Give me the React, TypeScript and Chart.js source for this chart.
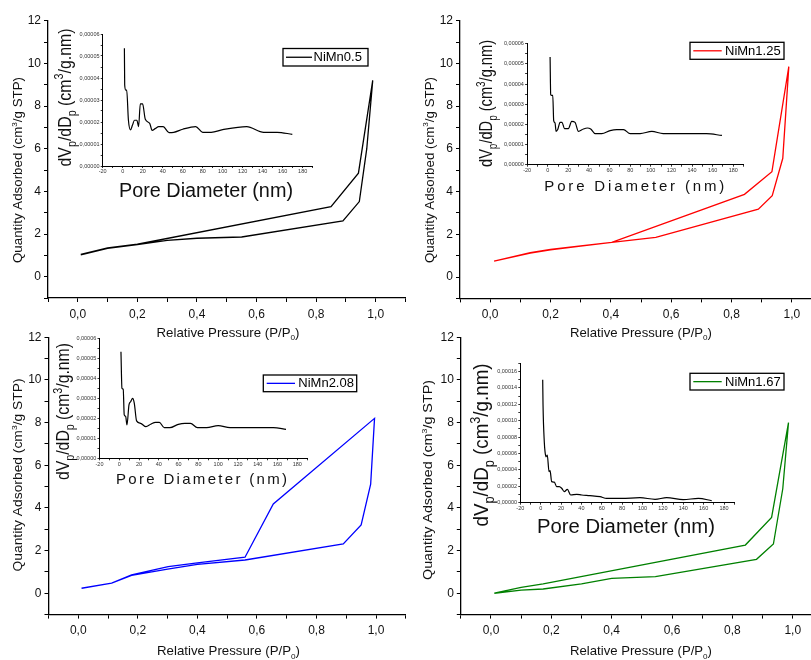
import React, { useEffect, useRef } from 'react';
import { Chart, registerables } from 'chart.js';

Chart.register(...registerables);

const FONT = "'Liberation Sans', Arial, Helvetica, sans-serif";

// ---------------- DATA ----------------
const seriesLabels = ['NiMn0.5', 'NiMn1.25', 'NiMn2.08', 'NiMn1.67'];

// Isotherms: adsorption (lower) branch then desorption (upper) branch
const p1AdsX = [0.01, 0.1, 0.2, 0.3, 0.4, 0.55, 0.89, 0.945, 0.97, 0.99];
const p1AdsY = [1.02, 1.33, 1.5, 1.7, 1.8, 1.86, 2.61, 3.52, 6.0, 9.2];
const p1DesX = [0.99, 0.942, 0.85, 0.2, 0.1, 0.01];
const p1DesY = [9.2, 4.85, 3.28, 1.52, 1.35, 1.04];

const p2AdsX = [0.013, 0.133, 0.2, 0.3, 0.403, 0.549, 0.889, 0.935, 0.97, 0.99];
const p2AdsY = [0.75, 1.12, 1.27, 1.45, 1.62, 1.86, 3.18, 3.81, 5.56, 9.85];
const p2DesX = [0.99, 0.934, 0.843, 0.403, 0.3, 0.2, 0.133, 0.013];
const p2DesY = [9.85, 4.93, 3.87, 1.62, 1.46, 1.29, 1.14, 0.74];

const p3AdsX = [0.011, 0.112, 0.179, 0.3, 0.4, 0.56, 0.89, 0.95, 0.982, 0.995];
const p3AdsY = [0.23, 0.47, 0.84, 1.13, 1.35, 1.56, 2.31, 3.2, 5.12, 8.2];
const p3DesX = [0.995, 0.655, 0.56, 0.4, 0.302, 0.179, 0.112, 0.011];
const p3DesY = [8.2, 4.19, 1.69, 1.42, 1.25, 0.86, 0.48, 0.24];

const p4AdsX = [0.011, 0.1, 0.173, 0.3, 0.4, 0.545, 0.88, 0.936, 0.967, 0.986];
const p4AdsY = [0.0, 0.15, 0.2, 0.44, 0.7, 0.78, 1.59, 2.31, 4.9, 8.0];
const p4DesX = [0.986, 0.93, 0.843, 0.173, 0.1, 0.011];
const p4DesY = [8.0, 3.56, 2.26, 0.44, 0.28, 0.01];

// Pore size distributions (insets), dVp/dDp in units of 1e-5 cm3/g.nm
const i1X = [1.7, 2, 3, 4, 5.7, 7.8, 9.8, 11.8, 14.2, 15.9, 17.6, 19.9, 22.6, 27, 29.4, 32.8, 36, 40.5, 46.3, 51, 60, 73, 80, 88.5, 100, 124, 141, 154.4, 169.6];
const i1Y = [5.35, 3.68, 3.45, 3.45, 2.09, 1.64, 1.86, 2.08, 2.08, 1.79, 2.82, 2.82, 2.12, 1.94, 1.62, 1.71, 1.79, 1.79, 1.52, 1.53, 1.67, 1.79, 1.53, 1.53, 1.65, 1.79, 1.53, 1.53, 1.44];

const i2X = [2.3, 2.9, 3.9, 4.9, 5.8, 7.1, 8.1, 9.7, 12, 13.9, 16.2, 20, 23.3, 26.5, 29.8, 34.6, 38.5, 41.7, 46, 52.4, 60.5, 67, 73.5, 80, 89.6, 101, 112, 154, 169];
const i2Y = [5.34, 3.47, 3.44, 3.44, 2.18, 2.07, 1.65, 1.74, 2.1, 2.1, 1.79, 1.79, 2.15, 2.1, 1.65, 1.77, 1.82, 1.77, 1.54, 1.54, 1.69, 1.74, 1.74, 1.54, 1.54, 1.65, 1.54, 1.54, 1.45];

const i3X = [1.7, 2.7, 4, 5, 6.4, 7.8, 9.8, 11.5, 13.5, 15.2, 17.5, 21.6, 27, 31.7, 36.7, 40.5, 45.5, 51.2, 59.7, 66.4, 72, 79, 88.3, 100, 112, 155.8, 168.6];
const i3Y = [5.33, 3.5, 3.45, 2.17, 2.1, 1.67, 2.67, 2.83, 3.0, 2.75, 1.87, 1.75, 1.58, 1.7, 1.8, 1.8, 1.53, 1.53, 1.7, 1.75, 1.75, 1.53, 1.53, 1.63, 1.53, 1.53, 1.45];

const i4X = [2, 2.3, 3.6, 4.3, 5.2, 6.5, 8.2, 9.2, 10.8, 13.4, 15.7, 18.3, 20.6, 23.2, 26.2, 29.5, 35.4, 40.3, 48.4, 58.3, 64.8, 79.5, 97.5, 112.3, 123.7, 140, 154.8, 168];
const i4Y = [15.0, 12.0, 7.3, 6.2, 5.6, 5.8, 3.8, 3.9, 2.57, 2.5, 1.96, 1.96, 1.76, 1.35, 1.63, 0.94, 1.02, 0.94, 0.86, 0.73, 0.53, 0.53, 0.61, 0.41, 0.61, 0.37, 0.53, 0.24];

// Tick labels
const pressureTickLabels = ['0,0', '0,2', '0,4', '0,6', '0,8', '1,0'];
const quantityTickLabels = ['0', '2', '4', '6', '8', '10', '12'];
const poreTickLabels = ['-20', '0', '20', '40', '60', '80', '100', '120', '140', '160', '180'];
const psdTickLabels = ['0,00000', '0,00001', '0,00002', '0,00003', '0,00004', '0,00005', '0,00006'];
const psdTickLabels4 = ['0,00000', '0,00002', '0,00004', '0,00006', '0,00008', '0,00010', '0,00012', '0,00014', '0,00016'];

// ---------------- STYLE / LAYOUT ----------------
const seriesColors = ['#000000', '#ff0000', '#0000ff', '#008000'];

const isoData = [
  { ax: p1AdsX, ay: p1AdsY, dx: p1DesX, dy: p1DesY },
  { ax: p2AdsX, ay: p2AdsY, dx: p2DesX, dy: p2DesY },
  { ax: p3AdsX, ay: p3AdsY, dx: p3DesX, dy: p3DesY },
  { ax: p4AdsX, ay: p4AdsY, dx: p4DesX, dy: p4DesY },
];
const psdData = [
  { x: i1X, y: i1Y },
  { x: i2X, y: i2Y },
  { x: i3X, y: i3Y },
  { x: i4X, y: i4Y },
];

type Rect = { l: number; t: number; w: number; h: number };
type Area = { L: number; T: number; R: number; B: number };

const MAIN: {
  canvas: Rect; area: Area;
  yTitle: { x: number; y: number; len: number };
  xTitle: { x: number; y: number; len: number };
  legend: { l: number; t: number; r: number; b: number; x1: number; x2: number; tx: number };
}[] = [
  { canvas: { l: 0, t: 0, w: 414, h: 350 }, area: { L: 48, T: 20.7, R: 405.5, B: 298 },
    yTitle: { x: 22, y: 170, len: 186 }, xTitle: { x: 228, y: 336.5, len: 143 },
    legend: { l: 283, t: 48.5, r: 368, b: 66, x1: 286, x2: 312, tx: 313.5 } },
  { canvas: { l: 412, t: 0, w: 422, h: 350 }, area: { L: 460, T: 20.7, R: 822, B: 298.4 },
    yTitle: { x: 433.5, y: 170, len: 186 }, xTitle: { x: 641, y: 336.5, len: 142 },
    legend: { l: 690, t: 42.3, r: 784, b: 59.3, x1: 693.3, x2: 721.7, tx: 725 } },
  { canvas: { l: 0, t: 317, w: 414, h: 343 }, area: { L: 48.5, T: 337.3, R: 405.8, B: 614.6 },
    yTitle: { x: 22, y: 475, len: 193 }, xTitle: { x: 228.5, y: 655, len: 143 },
    legend: { l: 263.3, t: 375, r: 356.7, b: 391.7, x1: 266.7, x2: 295, tx: 298.3 } },
  { canvas: { l: 412, t: 317, w: 422, h: 343 }, area: { L: 460.8, T: 337.3, R: 822.9, B: 614.6 },
    yTitle: { x: 432, y: 480, len: 200 }, xTitle: { x: 641, y: 655, len: 142 },
    legend: { l: 690, t: 373.3, r: 784, b: 390, x1: 693.3, x2: 721.7, tx: 725 } },
];

const INSETS: {
  canvas: Rect; area: Area; yMax: number; yStep: number;
  yTitle: { x: number; y: number; size: number; len: number };
  xTitle: { x: number; y: number; size: number; len: number; spread: boolean };
}[] = [
  { canvas: { l: 50, t: 24, w: 280, h: 182 }, area: { L: 102.7, T: 34, R: 312.7, B: 166 }, yMax: 6, yStep: 0.5,
    yTitle: { x: 70.6, y: 97.5, size: 18, len: 138 }, xTitle: { x: 206, y: 197, size: 20, len: 174, spread: false } },
  { canvas: { l: 470, t: 32, w: 290, h: 170 }, area: { L: 527.1, T: 43.7, R: 743.6, B: 164.7 }, yMax: 6, yStep: 0.5,
    yTitle: { x: 492.4, y: 103.5, size: 18, len: 127 }, xTitle: { x: 634.3, y: 190.7, size: 15, len: 180, spread: true } },
  { canvas: { l: 50, t: 328, w: 275, h: 165 }, area: { L: 99.5, T: 338.3, R: 307.2, B: 458.3 }, yMax: 6, yStep: 0.5,
    yTitle: { x: 69.1, y: 411.5, size: 18, len: 137 }, xTitle: { x: 201.5, y: 484, size: 15, len: 171, spread: true } },
  { canvas: { l: 465, t: 353, w: 285, h: 190 }, area: { L: 520.3, T: 363.3, R: 734.2, B: 502.7 }, yMax: 17, yStep: 1,
    yTitle: { x: 488, y: 445, size: 21, len: 163 }, xTitle: { x: 626, y: 533.3, size: 20, len: 178, spread: false } },
];

// ---------------- RICH TEXT ----------------
type Seg = [string, number]; // 0 normal, 1 subscript, -1 superscript

function drawRich(
  ctx: CanvasRenderingContext2D, segs: Seg[], cx: number, cy: number, size: number,
  opt: { rot?: boolean; len?: number; spread?: boolean; color?: string; subScale?: number }
) {
  ctx.save();
  ctx.translate(cx, cy);
  if (opt.rot) ctx.rotate(-Math.PI / 2);
  ctx.fillStyle = opt.color || '#000';
  ctx.textBaseline = 'alphabetic';
  ctx.textAlign = 'left';
  const sc = opt.subScale || 0.62;
  const items = segs.map(([t, k]) => {
    const fs = k ? size * sc : size;
    ctx.font = `${fs}px ${FONT}`;
    const chars = Array.from(t).map((c) => ({ c, w: ctx.measureText(c).width }));
    const w = opt.spread ? chars.reduce((a, b) => a + b.w, 0) : ctx.measureText(t).width;
    return { t, k, fs, chars, w };
  });
  const natural = items.reduce((a, b) => a + b.w, 0);
  const nChars = items.reduce((a, b) => a + b.chars.length, 0);
  let gap = 0;
  let x = -natural / 2;
  if (opt.len && opt.spread) {
    gap = (opt.len - natural) / Math.max(1, nChars - 1);
    x = -opt.len / 2;
  } else if (opt.len) {
    ctx.scale(opt.len / natural, 1);
  }
  for (const it of items) {
    ctx.font = `${it.fs}px ${FONT}`;
    const dy = it.k === 1 ? size * 0.28 : it.k === -1 ? -size * 0.4 : 0;
    if (opt.spread) {
      for (const ch of it.chars) {
        ctx.fillText(ch.c, x, dy);
        x += ch.w + gap;
      }
    } else {
      ctx.fillText(it.t, x, dy);
      x += it.w;
    }
  }
  ctx.restore();
}

const Y_MAIN: Seg[] = [['Quantity Adsorbed (cm', 0], ['3', -1], ['/g STP)', 0]];
const X_MAIN: Seg[] = [['Relative Pressure (P/P', 0], ['0', 1], [')', 0]];
const Y_INSET: Seg[] = [['dV', 0], ['p', 1], ['/dD', 0], ['p', 1], [' (cm', 0], ['3', -1], ['/g.nm)', 0]];
const X_INSET: Seg[] = [['Pore Diameter (nm)', 0]];

// ---------------- CONFIGS ----------------
function buildMain(i: number) {
  const P = MAIN[i];
  const d = isoData[i];
  const color = seriesColors[i];
  const pts = [
    ...d.ax.map((x, k) => ({ x, y: d.ay[k] })),
    ...d.dx.map((x, k) => ({ x, y: d.dy[k] })),
  ];
  const { l, t, w, h } = P.canvas;
  const deco = {
    id: 'deco' + i,
    afterDraw(chart: any) {
      const ctx: CanvasRenderingContext2D = chart.ctx;
      ctx.save();
      ctx.translate(-l, -t);
      drawRich(ctx, Y_MAIN, P.yTitle.x, P.yTitle.y, 13, { rot: true, len: P.yTitle.len, color: '#111' });
      drawRich(ctx, X_MAIN, P.xTitle.x, P.xTitle.y, 13, { len: P.xTitle.len, color: '#111' });
      const L = P.legend;
      ctx.fillStyle = '#fff';
      ctx.fillRect(L.l, L.t, L.r - L.l, L.b - L.t);
      ctx.strokeStyle = '#000';
      ctx.lineWidth = 1.3;
      ctx.strokeRect(L.l, L.t, L.r - L.l, L.b - L.t);
      const my = (L.t + L.b) / 2;
      ctx.strokeStyle = color;
      ctx.lineWidth = 1.3;
      ctx.beginPath();
      ctx.moveTo(L.x1, my);
      ctx.lineTo(L.x2, my);
      ctx.stroke();
      ctx.fillStyle = '#000';
      ctx.font = `13px ${FONT}`;
      ctx.textBaseline = 'middle';
      ctx.textAlign = 'left';
      ctx.fillText(seriesLabels[i], L.tx, my + 0.5);
      ctx.restore();
    },
  };
  return {
    rect: P.canvas,
    config: {
      type: 'scatter',
      data: {
        datasets: [{
          label: seriesLabels[i], data: pts, showLine: true, borderColor: color, backgroundColor: color,
          borderWidth: 1.3, pointRadius: 0, tension: 0, fill: false,
        }],
      },
      options: {
        animation: false, responsive: false, maintainAspectRatio: false, devicePixelRatio: 1, events: [],
        layout: { padding: { left: 0, top: P.area.T - t, right: l + w - P.area.R, bottom: 0 } },
        plugins: { legend: { display: false }, tooltip: { enabled: false }, title: { display: false } },
        scales: {
          x: {
            type: 'linear', position: 'bottom', min: -0.1, max: 1.1,
            afterFit: (s: any) => { s.height = t + h - P.area.B; },
            ticks: {
              stepSize: 0.1, autoSkip: false, maxRotation: 0, minRotation: 0, padding: 5, color: '#111',
              font: { family: FONT, size: 12 },
              callback: (v: number) => {
                const n = Math.round(v * 10);
                return n >= 0 && n % 2 === 0 && n / 2 < pressureTickLabels.length ? pressureTickLabels[n / 2] : '';
              },
            },
            grid: { display: true, drawOnChartArea: false, drawTicks: true, tickLength: 4, tickColor: '#000', tickWidth: 1 },
            border: { display: true, color: '#000', width: 1.3 },
          },
          y: {
            type: 'linear', position: 'left', min: -1, max: 12,
            afterFit: (s: any) => { s.width = P.area.L - l; },
            ticks: {
              stepSize: 1, autoSkip: false, padding: 3, color: '#111',
              font: { family: FONT, size: 12 },
              callback: (v: number) => {
                const n = Math.round(v);
                return n >= 0 && n % 2 === 0 && n / 2 < quantityTickLabels.length ? quantityTickLabels[n / 2] : '';
              },
            },
            grid: { display: true, drawOnChartArea: false, drawTicks: true, tickLength: 4, tickColor: '#000', tickWidth: 1 },
            border: { display: true, color: '#000', width: 1.3 },
          },
        },
      },
      plugins: [deco],
    },
  };
}

function buildInset(i: number) {
  const P = INSETS[i];
  const d = psdData[i];
  const pts = d.x.map((x, k) => ({ x, y: d.y[k] }));
  const { l, t, w, h } = P.canvas;
  const deco = {
    id: 'insetDeco' + i,
    afterDraw(chart: any) {
      const ctx: CanvasRenderingContext2D = chart.ctx;
      ctx.save();
      ctx.translate(-l, -t);
      drawRich(ctx, Y_INSET, P.yTitle.x, P.yTitle.y, P.yTitle.size, { rot: true, len: P.yTitle.len, color: '#111', subScale: 0.68 });
      drawRich(ctx, X_INSET, P.xTitle.x, P.xTitle.y, P.xTitle.size, { len: P.xTitle.len, spread: P.xTitle.spread, color: '#111' });
      ctx.restore();
    },
  };
  const labels = i === 3 ? psdTickLabels4 : psdTickLabels;
  return {
    rect: P.canvas,
    config: {
      type: 'scatter',
      data: {
        datasets: [{
          label: 'PSD', data: pts, showLine: true, borderColor: '#000', backgroundColor: '#000',
          borderWidth: 1.2, pointRadius: 0, cubicInterpolationMode: 'monotone', fill: false,
        }],
      },
      options: {
        animation: false, responsive: false, maintainAspectRatio: false, devicePixelRatio: 1, events: [],
        layout: { padding: { left: 0, top: P.area.T - t, right: l + w - P.area.R, bottom: 0 } },
        plugins: { legend: { display: false }, tooltip: { enabled: false }, title: { display: false } },
        scales: {
          x: {
            type: 'linear', position: 'bottom', min: -20, max: 190,
            afterFit: (s: any) => { s.height = t + h - P.area.B; },
            ticks: {
              stepSize: 10, autoSkip: false, maxRotation: 0, minRotation: 0, padding: 0.5, color: '#333',
              font: { family: FONT, size: 5.5 },
              callback: (v: number) => {
                const n = Math.round(v);
                const k = (n + 20) / 20;
                return Number.isInteger(k) && k >= 0 && k < poreTickLabels.length ? poreTickLabels[k] : '';
              },
            },
            grid: { display: true, drawOnChartArea: false, drawTicks: true, tickLength: 2, tickColor: '#000', tickWidth: 0.8 },
            border: { display: true, color: '#000', width: 1 },
          },
          y: {
            type: 'linear', position: 'left', min: 0, max: P.yMax,
            afterFit: (s: any) => { s.width = P.area.L - l; },
            ticks: {
              stepSize: P.yStep, autoSkip: false, padding: 1.2, color: '#333',
              font: { family: FONT, size: 5.5 },
              callback: (v: number) => {
                if (i === 3) {
                  const n = Math.round(v);
                  return n % 2 === 0 && n / 2 < labels.length ? labels[n / 2] : '';
                }
                const k = Math.round(v * 2);
                return k % 2 === 0 && k / 2 < labels.length ? labels[k / 2] : '';
              },
            },
            grid: { display: true, drawOnChartArea: false, drawTicks: true, tickLength: 2, tickColor: '#000', tickWidth: 0.8 },
            border: { display: true, color: '#000', width: 1 },
          },
        },
      },
      plugins: [deco],
    },
  };
}

const ALL = [0, 1, 2, 3].map(buildMain).concat([0, 1, 2, 3].map(buildInset));

export default function App() {
  const refs = useRef<(HTMLCanvasElement | null)[]>([]);
  useEffect(() => {
    const charts = ALL.map((c, k) => new Chart(refs.current[k] as HTMLCanvasElement, c.config as any));
    return () => charts.forEach((c) => c.destroy());
  }, []);
  return (
    <div style={{ position: 'absolute', left: 0, top: 0, width: 811, height: 660, overflow: 'hidden', background: '#fff' }}>
      {ALL.map((c, k) => (
        <canvas
          key={k}
          ref={(el) => { refs.current[k] = el; }}
          width={c.rect.w}
          height={c.rect.h}
          style={{ position: 'absolute', left: c.rect.l, top: c.rect.t, width: c.rect.w, height: c.rect.h }}
        />
      ))}
    </div>
  );
}
